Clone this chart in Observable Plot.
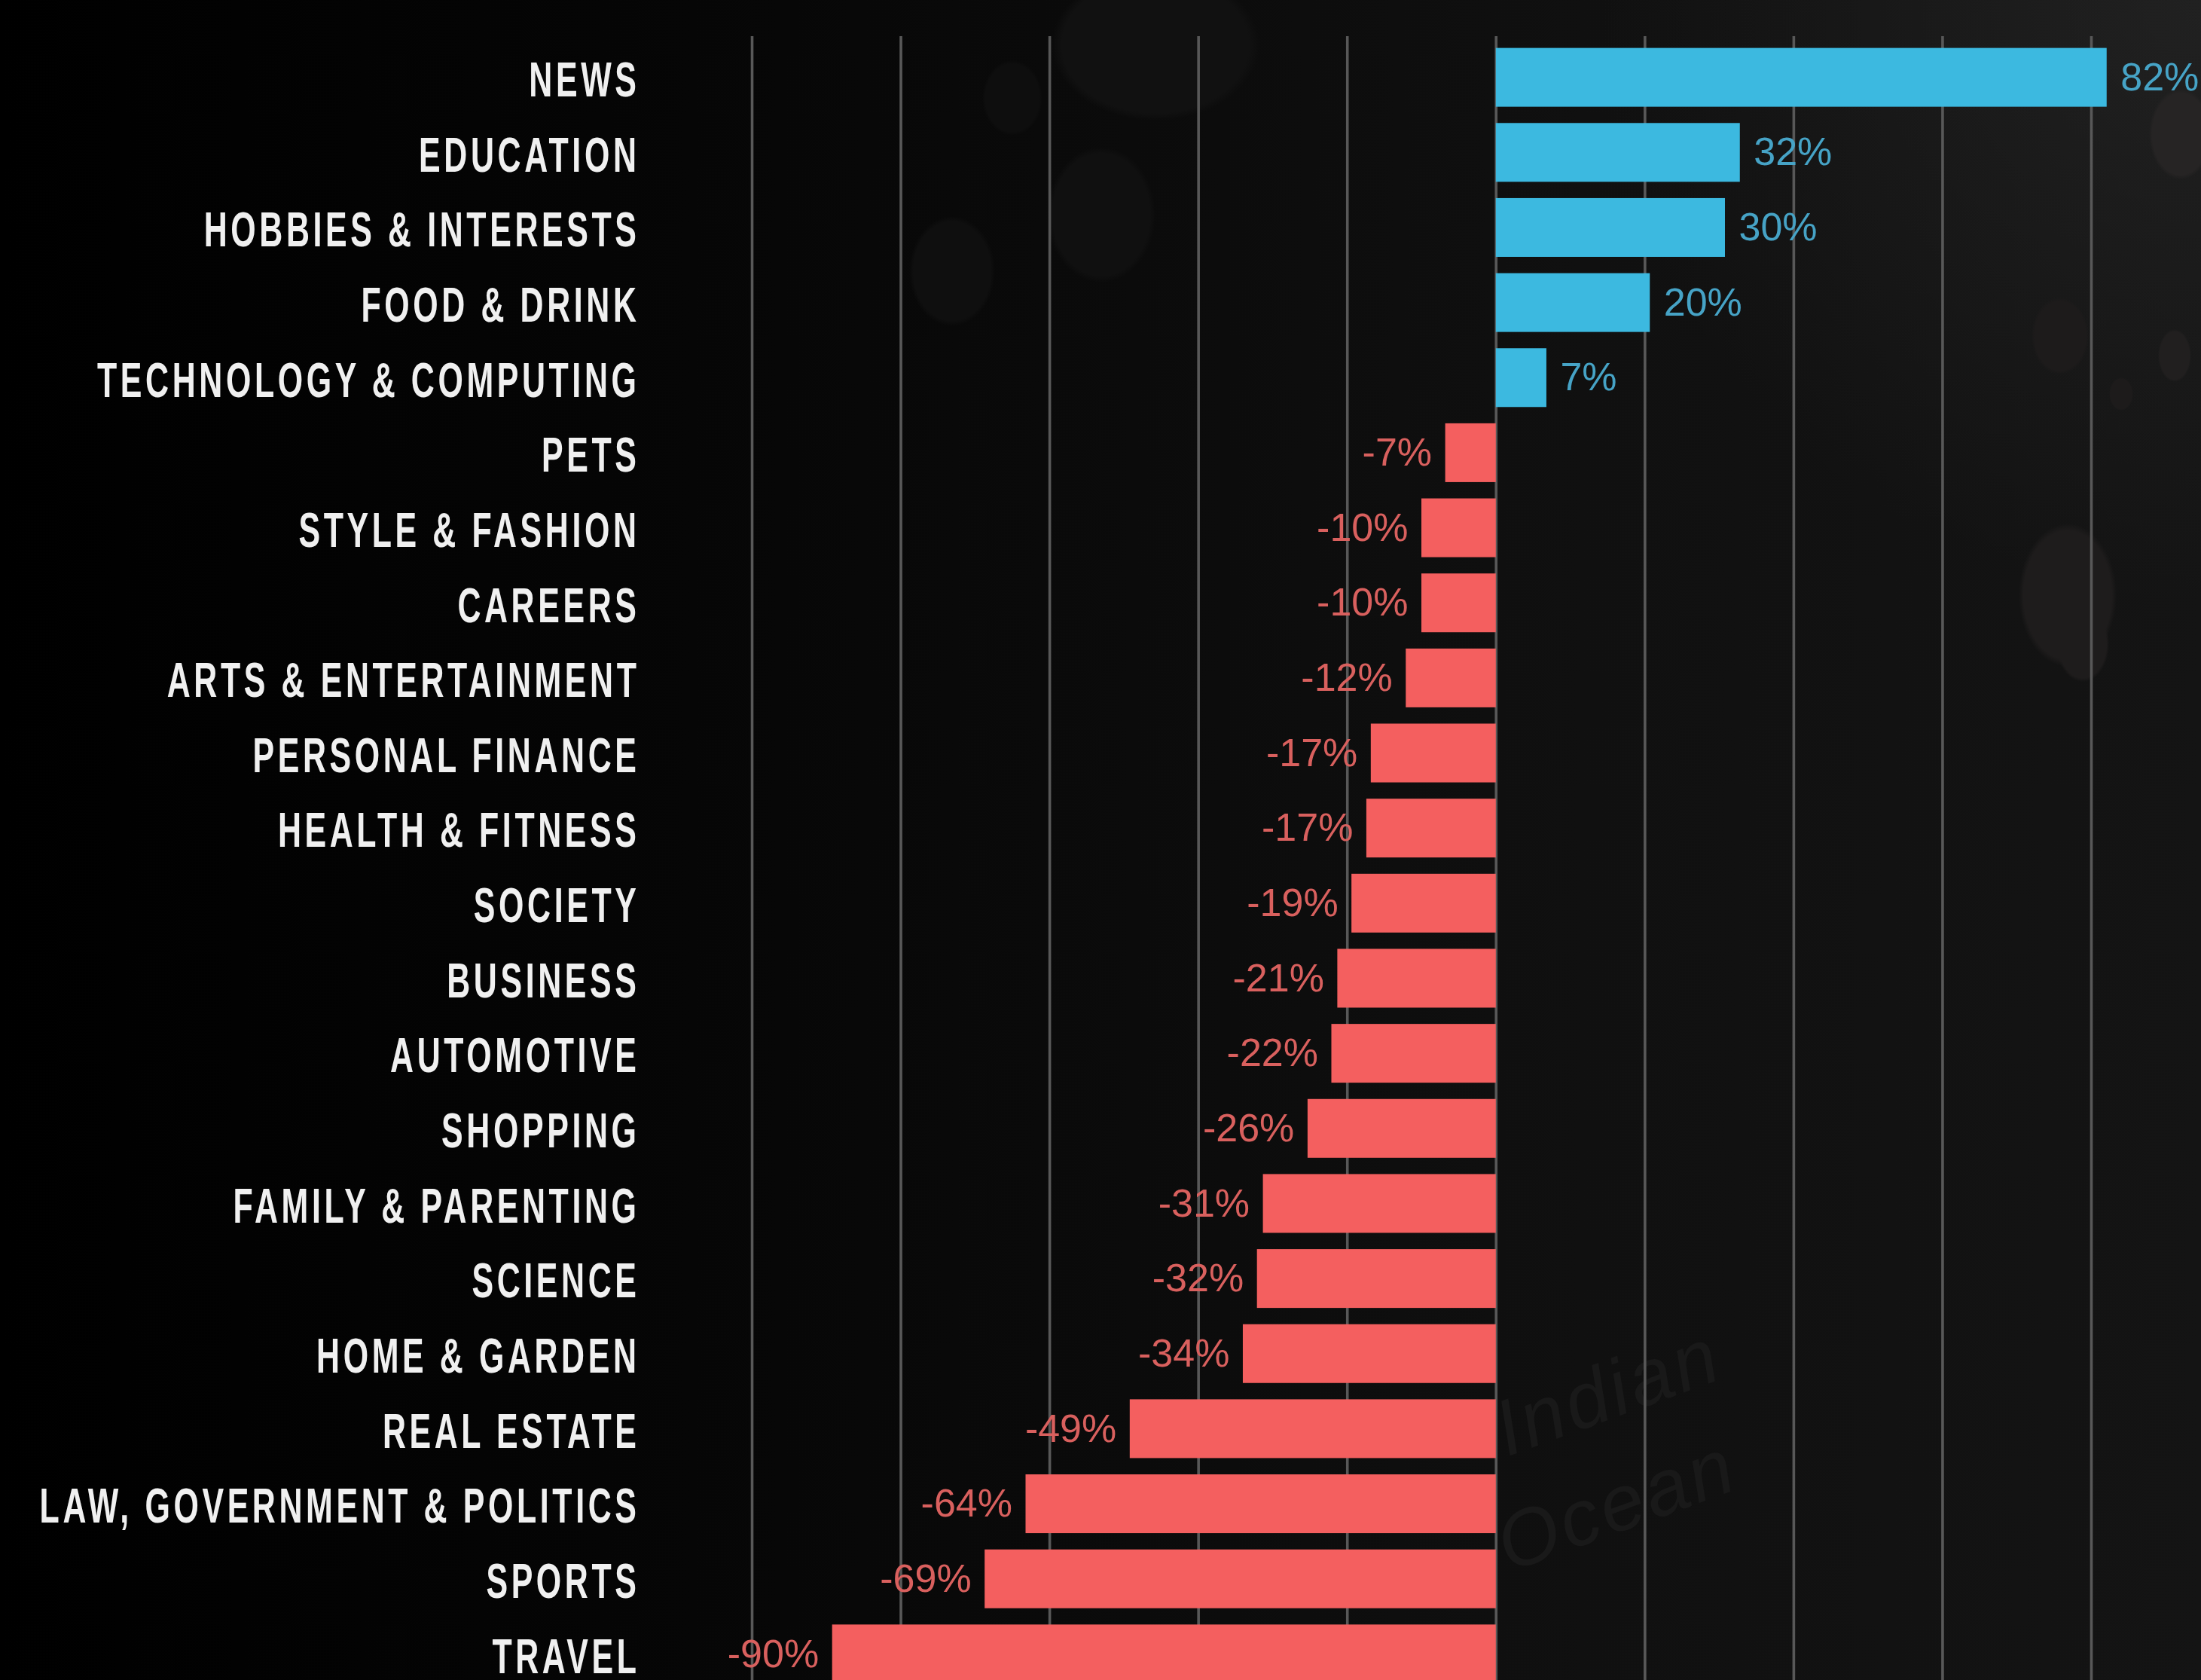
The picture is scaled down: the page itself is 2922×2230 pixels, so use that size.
<!DOCTYPE html>
<html>
<head>
<meta charset="utf-8">
<script src="https://cdn.jsdelivr.net/npm/d3@7"></script>
<script src="https://cdn.jsdelivr.net/npm/@observablehq/plot@0.6"></script>
<style>
html,body{margin:0;padding:0;width:2922px;height:2230px;overflow:hidden;background-color:#0b0b0b;}
body{position:relative;background-image:
 radial-gradient(ellipse 38px 51px at 2735px 446px,#1d1b1b 90%,transparent 100%),
 radial-gradient(ellipse 65px 95px at 2745px 790px,#1e1c1c 90%,transparent 100%),
 radial-gradient(ellipse 35px 50px at 2765px 855px,#1e1c1c 90%,transparent 100%),
 radial-gradient(ellipse 22px 35px at 2887px 472px,#211f1f 90%,transparent 100%),
 radial-gradient(ellipse 16px 22px at 2816px 523px,#1d1b1b 90%,transparent 100%),
 radial-gradient(ellipse 42px 60px at 2895px 178px,#262424 90%,transparent 100%),
 radial-gradient(ellipse 72px 90px at 1462px 285px,#101010 90%,transparent 100%),
 radial-gradient(ellipse 57px 73px at 1264px 360px,#0f0f0f 90%,transparent 100%),
 radial-gradient(ellipse 138px 100px at 1534px 60px,#111111 90%,transparent 100%),
 radial-gradient(ellipse 40px 50px at 1344px 130px,#0e0e0e 90%,transparent 100%),
 radial-gradient(ellipse 800px 800px at 2922px 0px,rgba(70,70,70,.26),rgba(70,70,70,0) 100%),
 linear-gradient(90deg,#000 0,#050505 800px,#0b0b0b 1500px,#101010 2100px,#141414 2922px);}
.sea{position:absolute;font:italic 105px 'Liberation Sans',sans-serif;letter-spacing:4px;color:#191919;transform:rotate(-20deg);white-space:nowrap;}
#chart{position:relative;}
#chart svg{display:block;overflow:hidden;}
#chart g[aria-label="y-axis tick label"]{letter-spacing:7px;}
</style>
</head>
<body>
<div class="sea" style="left:1979px;top:1787px;">Indian</div>
<div class="sea" style="left:1981px;top:1937px;">Ocean</div>
<div id="chart"></div>
<script>
const categories = ["NEWS","EDUCATION","HOBBIES & INTERESTS","FOOD & DRINK","TECHNOLOGY & COMPUTING","PETS","STYLE & FASHION","CAREERS","ARTS & ENTERTAINMENT","PERSONAL FINANCE","HEALTH & FITNESS","SOCIETY","BUSINESS","AUTOMOTIVE","SHOPPING","FAMILY & PARENTING","SCIENCE","HOME & GARDEN","REAL ESTATE","LAW, GOVERNMENT & POLITICS","SPORTS","TRAVEL"];
const barValues = [82.1,32.8,30.8,20.7,6.8,-6.8,-10,-10,-12.1,-16.8,-17.4,-19.4,-21.3,-22.1,-25.3,-31.3,-32.1,-34,-49.2,-63.2,-68.7,-89.2];
const labelValues = [82,32,30,20,7,-7,-10,-10,-12,-17,-17,-19,-21,-22,-26,-31,-32,-34,-49,-64,-69,-90];
const gridTicks = [-100,-80,-60,-40,-20,0,20,40,60,80];

const rows = categories.map((name,i)=>({name,value:barValues[i],label:labelValues[i]+"%"}));
const pos = rows.filter(d=>d.value>=0), neg = rows.filter(d=>d.value<0);

const chart = Plot.plot({
  width:2922, height:2230,
  marginLeft:998, marginRight:146, marginTop:48, marginBottom:0,
  style:{background:"transparent",overflow:"hidden"},
  x:{domain:[-100,80],axis:null},
  y:{domain:categories,range:[42,2256],padding:0.217,round:false,axis:null},
  marks:[
    Plot.ruleX(gridTicks,{stroke:"#585858",strokeWidth:3.6}),
    Plot.axisY({anchor:"left",tickSize:0,tickPadding:149,dy:4,label:null,fontSize:65,fontWeight:"bold",fontFamily:"'Liberation Sans Narrow','Liberation Sans',sans-serif",fill:"#f0f0f0"}),
    Plot.barX(rows,{x:"value",y:"name",fill:d=>d.value>=0?"#3cb9e0":"#f45f5f"}),
    Plot.text(pos,{x:"value",y:"name",text:"label",textAnchor:"start",dx:18,fill:"#46a3c6",fontSize:52,fontFamily:"'Liberation Sans',sans-serif"}),
    Plot.text(neg,{x:"value",y:"name",text:"label",textAnchor:"end",dx:-18,fill:"#d9605e",fontSize:52,fontFamily:"'Liberation Sans',sans-serif"})
  ]
});
document.getElementById("chart").append(chart);
// Condense the category labels horizontally, as the reference's condensed typeface is not installed.
chart.querySelectorAll('g[aria-label="y-axis tick label"] text').forEach(t=>{
  t.setAttribute("transform",(t.getAttribute("transform")||"")+" scale(.66,1)");
});
</script>
</body>
</html>
